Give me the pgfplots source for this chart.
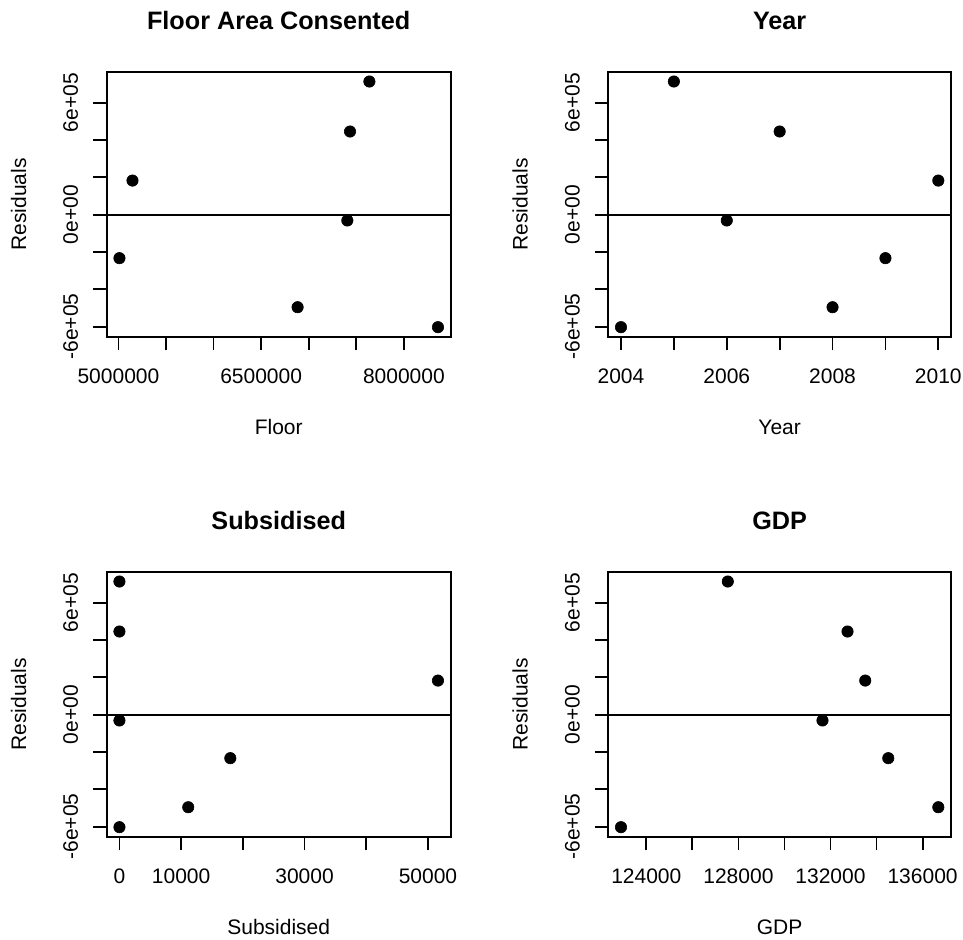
\documentclass[border=0pt]{standalone}
\usepackage{pgfplots}
\pgfplotsset{compat=1.18}
\usepackage{fontspec}
\setmainfont{Liberation Sans}
\pgfplotsset{
 rstyle/.style={
  scale only axis,
  anchor=south west,
  height=132.65pt,
  ymin=-655700, ymax=766700,
  ytick={-600000,-400000,-200000,0,200000,400000,600000},
  yticklabels={-6e+05,,,0e+00,,,6e+05},
  scaled ticks=false,
  tick pos=left,
  tick align=outside,
  major tick length=6.67pt,
  tick style={black, line width=0.9pt},
  axis line style={black, line width=1pt},
  clip=true,
  yticklabel style={rotate=90, anchor=base, inner sep=0pt},
  xticklabel style={anchor=north, inner sep=0pt},
  xticklabel shift=8.85pt,
  yticklabel shift=7.7pt,
  every axis title/.style={at={([yshift=21.2pt]rel axis cs:0.5,1)}, anchor=base, inner sep=0pt, font=\bfseries\fontsize{12.6}{15}\selectfont},
  every axis x label/.style={at={([yshift=-48.5pt]rel axis cs:0.5,0)}, anchor=base, inner sep=0pt},
  every axis y label/.style={at={([xshift=-40.3pt]rel axis cs:0,0.5)}, rotate=90, anchor=base, inner sep=0pt},
  ylabel={Residuals},
 },
 pts/.style={only marks, mark=*, mark size=2.85pt, black, mark options={fill=black, draw=black, line width=0.3pt}},
 zline/.style={black, line width=0.9pt, mark=none},
}
\begin{document}
\fontsize{10.5}{12.6}\selectfont
\begin{tikzpicture}
\useasboundingbox (0,0) rectangle (481.5pt,469.5pt);
% Top-left: Floor
\begin{axis}[rstyle, at={(53.35pt,301pt)}, width=172pt,
  xmin=4876600, xmax=8492200,
  xtick={5000000,5500000,6000000,6500000,7000000,7500000,8000000},
  xticklabels={5000000,,,6500000,,,8000000},
  title={Floor Area Consented}, xlabel={Floor}]
\addplot[zline] coordinates {(4000000,0) (9000000,0)};
\addplot[pts] coordinates {
(5010500,-233000) (5147500,183000) (6883000,-496000) (7405700,-31000)
(7434000,446000) (7637600,714000) (8358300,-603000)};
\end{axis}
% Top-right: Year
\begin{axis}[rstyle, at={(304.15pt,301pt)}, width=171.35pt,
  xmin=2003.76, xmax=2010.24,
  xtick={2004,2005,2006,2007,2008,2009,2010},
  xticklabels={2004,,2006,,2008,,2010},
  title={Year}, xlabel={Year}]
\addplot[zline] coordinates {(2000,0) (2015,0)};
\addplot[pts] coordinates {
(2004,-603000) (2005,714000) (2006,-31000) (2007,446000)
(2008,-496000) (2009,-233000) (2010,183000)};
\end{axis}
% Bottom-left: Subsidised
\begin{axis}[rstyle, at={(53.35pt,51pt)}, width=172pt,
  xmin=-2065, xmax=53685,
  xtick={0,10000,20000,30000,40000,50000},
  xticklabels={0,10000,,30000,,50000},
  title={Subsidised}, xlabel={Subsidised}]
\addplot[zline] coordinates {(-10000,0) (60000,0)};
\addplot[pts] coordinates {
(0,-603000) (0,714000) (0,-31000) (0,446000)
(11150,-496000) (17970,-233000) (51620,183000)};
\end{axis}
% Bottom-right: GDP
\begin{axis}[rstyle, at={(304.15pt,51pt)}, width=171.35pt,
  xmin=122349, xmax=137234,
  xtick={124000,126000,128000,130000,132000,134000,136000},
  xticklabels={124000,,128000,,132000,,136000},
  title={GDP}, xlabel={GDP}]
\addplot[zline] coordinates {(120000,0) (140000,0)};
\addplot[pts] coordinates {
(122900,-603000) (127539,714000) (131652,-31000) (132739,446000)
(136683,-496000) (134509,-233000) (133509,183000)};
\end{axis}
\end{tikzpicture}
\end{document}
